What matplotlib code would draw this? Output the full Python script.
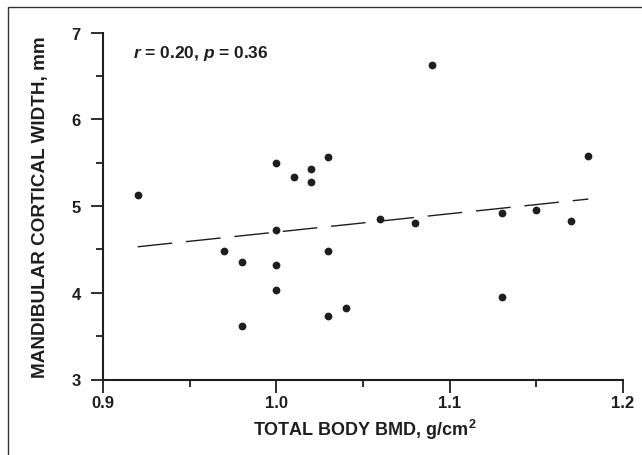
import matplotlib
matplotlib.use("Agg")
import matplotlib.pyplot as plt
from matplotlib.patches import Rectangle
from matplotlib.ticker import MultipleLocator

plt.rcParams['font.family'] = ['Liberation Sans', 'DejaVu Sans']
plt.rcParams['lines.scale_dashes'] = False
plt.rcParams['mathtext.fontset'] = 'custom'
plt.rcParams['mathtext.it'] = 'Liberation Sans:italic:bold'
plt.rcParams['mathtext.rm'] = 'Liberation Sans:bold'
plt.rcParams['mathtext.bf'] = 'Liberation Sans:bold'

bmd = [0.92, 0.97, 0.98, 0.98, 1.00, 1.00, 1.00, 1.00, 1.01, 1.02, 1.02, 1.03,
       1.03, 1.03, 1.04, 1.06, 1.08, 1.09, 1.13, 1.13, 1.15, 1.17, 1.18]
width = [5.13, 4.48, 4.35, 3.62, 5.50, 4.72, 4.32, 4.03, 5.33, 5.43, 5.28, 5.57,
         4.48, 3.73, 3.82, 4.85, 4.80, 6.62, 4.92, 3.95, 4.95, 4.83, 5.58]
fit_x = [0.92, 1.18]
fit_y = [4.53, 5.08]
xticks = [0.9, 1.0, 1.1, 1.2]
xticklabels = ['0.9', '1.0', '1.1', '1.2']
yticks = [3, 4, 5, 6, 7]

fig = plt.figure(figsize=(6.42, 4.56), dpi=100)
ax = fig.add_axes([103/642, 1 - 380.5/456, (623 - 103)/642, (380.5 - 33.5)/456])

ink = '#1e1e1e'
ax.plot(fit_x, fit_y, color=ink, lw=1.0, linestyle=(0, (25, 10)))
ax.plot(bmd, width, 'o', color=ink, markersize=5.6, markeredgewidth=0)

ax.set_xlim(0.9, 1.2)
ax.set_ylim(3, 7)
ax.set_xticks(xticks)
ax.set_xticklabels(xticklabels)
ax.set_yticks(yticks)
ax.xaxis.set_minor_locator(MultipleLocator(0.05))
ax.yaxis.set_minor_locator(MultipleLocator(0.5))
for s in ['top', 'right']:
    ax.spines[s].set_visible(False)
for s in ['left', 'bottom']:
    ax.spines[s].set_linewidth(1.5)
    ax.spines[s].set_color(ink)
ax.tick_params(which='major', length=9, width=1.3, color=ink, direction='out',
               labelsize=12, pad=2.5, labelcolor=ink)
ax.tick_params(which='minor', length=5, width=1.3, color=ink, direction='out')
ax.tick_params(axis='y', which='major', pad=7)
for lbl in ax.get_xticklabels() + ax.get_yticklabels():
    lbl.set_fontweight('bold')

xl = ax.set_xlabel(r'TOTAL BODY BMD, g/cm$^\mathregular{2}$', fontsize=12,
                   fontweight='bold', color=ink, ha='center', va='baseline')
ax.xaxis.set_label_coords((365 - 103) / 520, (380.5 - 436) / 347)
yl = ax.set_ylabel('MANDIBULAR CORTICAL WIDTH, mm', fontsize=13, fontweight='bold',
                   color=ink, ha='center', va='center')
ax.yaxis.set_label_coords((41 - 103) / 520, 0.5)

ann = ax.text((133 - 103) / 520, (380.5 - 58.3) / 347, r'$r$ = 0.20, $p$ = 0.36',
              transform=ax.transAxes, fontsize=12, fontweight='bold', color=ink,
              va='baseline', ha='left')

# scale text sizes so their lengths match the reference (pixels)
fig.canvas.draw()
for t, target, dim in [(xl, 224, 'w'), (yl, 342, 'h'), (ann, 135, 'w')]:
    bb = t.get_window_extent()
    cur = bb.width if dim == 'w' else bb.height
    t.set_fontsize(t.get_fontsize() * target / cur)

fig.patches.append(Rectangle((8/642, -0.1), 1.2, 1 - 8/456 + 0.1,
                             transform=fig.transFigure, fill=False,
                             edgecolor='#333333', lw=1.0))

fig.savefig('out.png', dpi=100)
